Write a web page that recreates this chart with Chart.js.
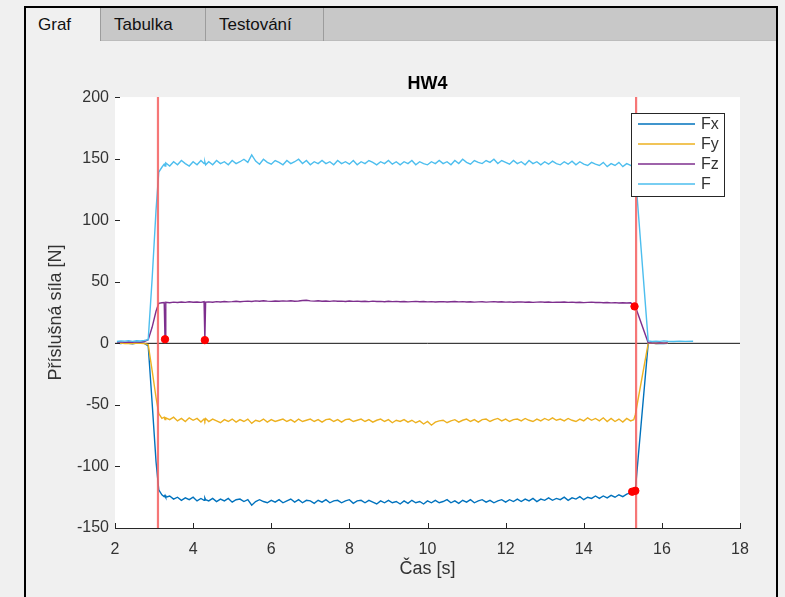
<!DOCTYPE html>
<html><head><meta charset="utf-8">
<script src="https://cdn.jsdelivr.net/npm/chart.js@4.4.1/dist/chart.umd.min.js"></script>
<style>
html,body{margin:0;padding:0;background:#f0f0f0;width:785px;height:597px;overflow:hidden;font-family:"Liberation Sans",Arial,sans-serif;}
#frame{position:absolute;left:24px;top:6px;width:750px;height:600px;border:2px solid #000;border-bottom:none;background:#f0f0f0;}
#tabs{position:absolute;left:0;top:0;width:750px;height:33px;background:#c8c8c8;border-bottom:1px solid #bcbcbc;box-sizing:border-box;}
.tab{position:absolute;top:0;height:33px;line-height:33px;font-size:17px;color:#111;box-sizing:border-box;white-space:nowrap;}
#t1{left:0;width:74px;padding-left:12px;background:#f0f0f0;height:34px;}
#t2{left:74px;width:105px;padding-left:13px;border-left:1px solid #9c9c9c;}
#t3{left:179px;width:118px;padding-left:13px;border-left:1px solid #9c9c9c;}
#t4{left:297px;width:453px;border-left:1px solid #9c9c9c;}
#c{position:absolute;left:0;top:0;}
</style></head>
<body>
<div id="frame"><div id="tabs">
<div class="tab" id="t1">Graf</div><div class="tab" id="t2">Tabulka</div><div class="tab" id="t3">Testování</div><div class="tab" id="t4"></div>
</div></div>
<canvas id="c" width="785" height="597"></canvas>
<script>
const chartTitle = 'HW4';
const xLabel = 'Čas [s]';
const yLabel = 'Příslušná síla [N]';
const seriesNames = ['Fx','Fy','Fz','F'];
const seriesColors = ['#0072BD','#EDB120','#7E2F8E','#4DBEEE'];

const time = [2.05,2.15,2.25,2.35,2.45,2.55,2.65,2.75,2.85,2.95,3.05,3.12,
3.2,3.26,3.28,3.3,
3.4,3.5,3.6,3.7,3.8,3.9,4.0,4.1,4.2,
4.28,4.3,4.32,
4.4,4.5,4.6,4.7,4.8,4.9,5.0,5.1,5.2,5.3,
5.4,5.5,5.6,5.7,5.8,5.9,6.0,6.1,6.2,6.3,
6.4,6.5,6.6,6.7,6.8,6.9,7.0,7.1,7.2,7.3,
7.4,7.5,7.6,7.7,7.8,7.9,8.0,8.1,8.2,8.3,
8.4,8.5,8.6,8.7,8.8,8.9,9.0,9.1,9.2,9.3,
9.4,9.5,9.6,9.7,9.8,9.9,10.0,10.1,10.2,10.3,
10.4,10.5,10.6,10.7,10.8,10.9,11.0,11.1,11.2,11.3,
11.4,11.5,11.6,11.7,11.8,11.9,12.0,12.1,12.2,12.3,
12.4,12.5,12.6,12.7,12.8,12.9,13.0,13.1,13.2,13.3,
13.4,13.5,13.6,13.7,13.8,13.9,14.0,14.1,14.2,14.3,
14.4,14.5,14.6,14.7,14.8,14.9,15.0,15.1,15.2,
15.28,15.32,
15.65,15.75,15.85,15.95,16.05,16.15,16.3,16.45,16.6,16.8];

const Fx = [0.3,-0.2,0.4,0,-0.3,0.2,0.5,0,-2,-48,-96,-119,
-123,-124.5,-123.5,-125,
-124,-126.5,-125,-127.5,-125.5,-127,-125,-128,-126,
-127.5,-125.5,-127,
-128,-126,-128.5,-126.5,-128,-126,-129,-127,-126.5,-128.5,
-127,-131.5,-128.5,-127,-128.5,-129.5,-127.5,-129,-127,-129.5,
-128,-126.5,-129,-127,-129.5,-127.5,-128,-130,-127.5,-129,
-127,-129.5,-128,-127.5,-129.5,-128,-127,-130,-128,-127.5,
-129.5,-127.5,-129,-130.5,-128,-129.5,-127.5,-129.5,-128.5,-130.5,
-128,-130,-127.5,-129.5,-128.5,-130.5,-128,-129.5,-127.5,-129.5,
-128.5,-127,-129.5,-128,-130,-127.5,-129,-127,-129.5,-128,
-127,-129,-127.5,-129.5,-128,-127,-129,-127,-128.5,-126.5,
-128.5,-126.5,-128,-126,-128.5,-126.5,-127.5,-125.5,-127.5,-126,
-127,-125,-127.5,-125.5,-126.5,-124.5,-127,-125,-126,-124,
-126,-124,-125.5,-123.5,-125,-123,-124.5,-122.5,-121.5,
-120.5,-119.5,
0,0.2,-0.1,0.1,-0.1,0,null,null,null,null];

const Fy = [0,0.2,-0.1,0.1,-0.2,0.1,0,-0.1,-1,-22,-44,-57,
-61,-60,-62,-60.5,
-62,-60,-63,-61,-63.5,-60.5,-62.5,-61,-64,
-61.5,-63,-61,
-63.5,-61.5,-63,-64.5,-62,-63.5,-61.5,-64,-62,-63.5,
-61.5,-65,-62.5,-63.5,-61.5,-64,-62,-63.5,-62.5,-61.5,
-63.5,-62,-64,-61.5,-63.5,-62.5,-61.5,-63.5,-62,-64,
-62,-61.5,-63.5,-62,-64,-62,-61.5,-63.5,-62.5,-61.5,
-63.5,-62,-64,-62.5,-61.5,-63.5,-62,-64.5,-62.5,-63.5,
-62,-64,-62.5,-64.5,-63,-65.5,-63.5,-66.5,-64,-63,
-62.5,-64.5,-63,-62,-64,-62.5,-61.5,-63.5,-62,-64,
-62,-61.5,-63.5,-62,-61,-63,-61.5,-63.5,-62,-61.5,
-63,-61,-62.5,-63.5,-61.5,-63,-61,-62.5,-60.5,-62.5,
-61.5,-63,-61,-62.5,-63.5,-61.5,-63,-60.5,-62.5,-61,
-63,-60.5,-63.5,-61,-63.5,-61.5,-64,-61,-63,
-62,-58,
0,0.2,-0.1,0.1,0,0.1,null,null,null,null];

const Fz = [1,1.2,0.8,1.1,0.9,1.2,1,1.5,3,13,26,32.5,
33,33.2,3.5,33.4,
33,33.5,33.2,33.6,33.3,33.8,33.4,33.6,33.3,
33.8,3,33.5,
33.7,33.4,33.9,33.6,34,33.7,33.9,34.2,33.8,34.1,
34.3,34,34.5,34.2,34.6,34.3,34.1,34.4,34.2,34.5,
34.3,34.6,34.2,34.4,34.8,35,34.5,34.3,34.6,34.2,
34.4,34.1,34.5,34.2,34.3,34,34.4,34.1,34.3,34,
34.2,33.9,34.3,34,34.1,33.8,34.2,33.9,34.1,33.8,
34,33.7,33.9,34.1,33.8,34,33.7,33.9,33.6,33.8,
33.9,33.6,33.8,34,33.7,33.9,33.6,33.8,33.5,33.7,
33.8,33.5,33.7,33.9,33.6,33.8,33.5,33.7,33.4,33.6,
33.7,33.4,33.6,33.3,33.5,33.7,33.4,33.6,33.3,33.5,
33.4,33.6,33.3,33.5,33.2,33.4,33.1,33.3,33.5,33.2,
33.3,33,33.2,32.9,33.1,32.8,33,32.7,32.9,
31,30,
0.5,0.3,0.2,0.3,0.2,0.3,null,null,null,null];

const F = [1.5,2,1.8,2.2,1.6,2.1,1.9,2.3,3,52,108,139,
143,145.5,144,146.5,
144,147.5,145,148.5,146,144,147.5,145,148.5,
146,147.5,145,
147.5,145,148.5,146,147.5,145,148.5,146,147.5,149.5,
147,153,148,145.5,149.5,147,145.5,148.5,147,145,
148.5,146,147.5,149.5,146,148.5,145,147.5,146,148.5,
146,147.5,145,148.5,146,147.5,145.5,148.5,145,147.5,
146,148.5,147,145,147.5,146,148.5,145.5,147.5,145,
147.5,146,148.5,145,147.5,146,145,147.5,146,148.5,
146,147.5,145,148.5,146,149.5,147,145.5,148.5,147,
146,148.5,147,149.5,146,148.5,147,145.5,148.5,146,
147.5,145,148.5,146,147.5,145,147.5,145.5,148,146,
145,147.5,145.5,148,145,147.5,145.5,144.5,147,145.5,
144.5,147,143.5,146,144.5,147,143.5,146,144.5,
143,138,
2,1.5,1.8,1.6,2,1.7,1.5,1.8,1.6,1.7];

const markerTimes = [3.1, 15.34];
const dotTimes = [3.28, 4.3, 15.3, 15.24, 15.32];
const dotValues = [3.3, 2.6, 30, -120.5, -119.8];

const xTicks = [2,4,6,8,10,12,14,16,18];
const yTicks = [-150,-100,-50,0,50,100,150,200];

const FONT = '"Liberation Sans", Arial, sans-serif';
const TXT = '#333333';
const AX = '#262626';

const allSeries = [Fx, Fy, Fz, F];
const toPts = arr => time.map((t,i)=>({x:t, y:arr[i]}));

const datasets = [];
allSeries.forEach((s,i)=>{
  datasets.push({label:seriesNames[i], data:toPts(s), borderColor:seriesColors[i], borderWidth:1.4,
    pointRadius:0, tension:0, spanGaps:false, order:5-i});
});
datasets.push({label:'zero', data:[{x:xTicks[0],y:0},{x:xTicks[xTicks.length-1],y:0}], borderColor:'#111', borderWidth:1, pointRadius:0, order:9});
markerTimes.forEach(t=>{
  datasets.push({label:'marker', data:[{x:t,y:yTicks[0]},{x:t,y:yTicks[yTicks.length-1]}], borderColor:'rgba(245,95,95,0.85)', borderWidth:2.2, pointRadius:0, order:1});
});
datasets.push({label:'dots', type:'scatter', data:dotTimes.map((t,i)=>({x:t,y:dotValues[i]})), backgroundColor:'#ff0000', borderColor:'#ff0000', pointRadius:3.7, showLine:false, order:0});

const bgPlugin = {id:'bg', beforeDatasetsDraw(chart){
  const {ctx, chartArea:a} = chart; ctx.save(); ctx.fillStyle='#ffffff'; ctx.fillRect(a.left, a.top, a.right-a.left, a.bottom-a.top); ctx.restore();
}};
const tickPlugin = {id:'inTicks', afterDraw(chart){
  const {ctx, chartArea:a, scales} = chart; ctx.save(); ctx.strokeStyle=AX; ctx.lineWidth=1;
  ctx.beginPath();
  yTicks.forEach(v=>{const y=Math.round(scales.y.getPixelForValue(v))+0.5; ctx.moveTo(a.left, y); ctx.lineTo(a.left+5, y);});
  xTicks.forEach(v=>{const x=Math.round(scales.x.getPixelForValue(v))+0.5; ctx.moveTo(x, a.bottom); ctx.lineTo(x, a.bottom-5);});
  ctx.stroke(); ctx.restore();
}};
const legendPlugin = {id:'boxLegend', afterDraw(chart){
  const {ctx, chartArea:a} = chart;
  const x0 = Math.round(a.right - 109), y0 = Math.round(a.top + 16), w = 93, h = 83;
  ctx.save();
  ctx.fillStyle='#ffffff'; ctx.fillRect(x0,y0,w,h);
  ctx.strokeStyle='#262626'; ctx.lineWidth=1; ctx.strokeRect(x0+0.5,y0+0.5,w,h);
  ctx.font = '16px ' + FONT; ctx.textBaseline='middle'; ctx.textAlign='left';
  seriesNames.forEach((n,i)=>{
    const yy = y0 + 11 + i*20;
    ctx.strokeStyle = seriesColors[i]; ctx.lineWidth = 1.6;
    ctx.beginPath(); ctx.moveTo(x0+7, yy); ctx.lineTo(x0+64, yy); ctx.stroke();
    ctx.fillStyle = TXT; ctx.fillText(n, x0+70, yy+1);
  });
  ctx.restore();
}};

new Chart(document.getElementById('c'), {
  type:'line',
  data:{datasets},
  plugins:[bgPlugin, tickPlugin, legendPlugin],
  options:{
    responsive:false, animation:false, devicePixelRatio:1,
    layout:{padding:{left:0, right:45, top:55, bottom:0}},
    plugins:{
      legend:{display:false}, tooltip:{enabled:false},
      title:{display:true, text:chartTitle, fullSize:false, color:'#000', font:{family:FONT, size:18, weight:'bold'}, padding:{top:18.5, bottom:2}}
    },
    scales:{
      x:{type:'linear', min:xTicks[0], max:xTicks[xTicks.length-1],
        afterBuildTicks(s){ s.ticks = xTicks.map(v=>({value:v})); },
        ticks:{font:{family:FONT,size:16}, color:TXT, padding:12, maxRotation:0},
        grid:{display:false, drawTicks:false}, border:{display:true, color:AX, width:1},
        title:{display:true, text:xLabel, color:TXT, font:{family:FONT,size:18}, padding:{top:0,bottom:17}},
        afterFit(s){ s.height = 69; }},
      y:{type:'linear', min:yTicks[0], max:yTicks[yTicks.length-1],
        afterBuildTicks(s){ s.ticks = yTicks.map(v=>({value:v})); },
        ticks:{font:{family:FONT,size:16}, color:TXT, padding:6},
        grid:{display:false, drawTicks:false}, border:{display:true, color:AX, width:1},
        title:{display:true, text:yLabel, color:TXT, font:{family:FONT,size:18}, padding:{top:45,bottom:0}},
        afterFit(s){ s.width = 115; }}
    }
  }
});
</script>
</body></html>
